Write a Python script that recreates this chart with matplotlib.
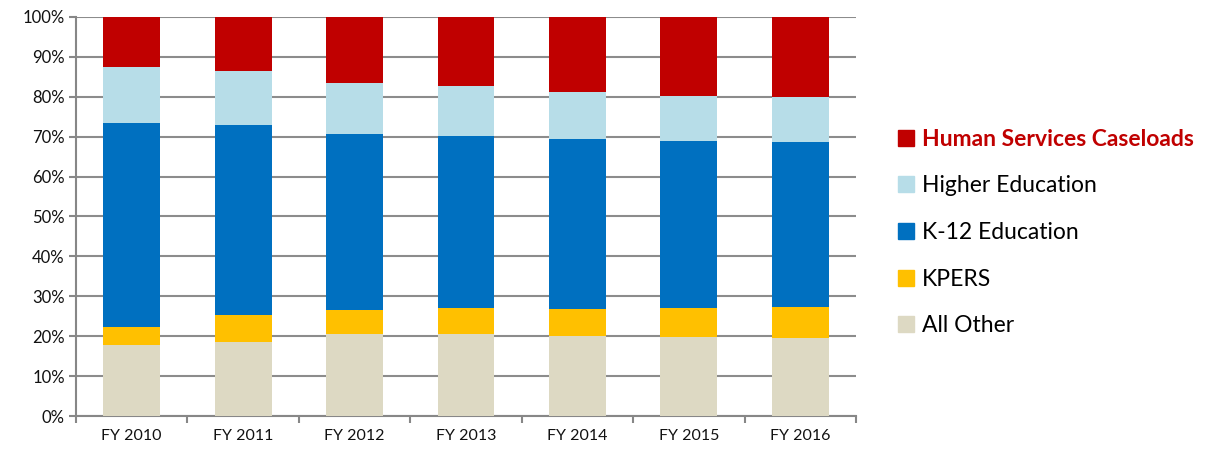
import matplotlib
matplotlib.use("Agg")
import matplotlib.pyplot as plt
from matplotlib.patches import Patch
from matplotlib.ticker import PercentFormatter

plt.rcParams['font.family'] = ['Lato', 'DejaVu Sans']

# data (shares of total, percent)
years = ["FY 2010", "FY 2011", "FY 2012", "FY 2013", "FY 2014", "FY 2015", "FY 2016"]
all_other = [17.9, 18.5, 20.5, 20.5, 20.1, 19.7, 19.6]
kpers = [4.3, 6.7, 6.0, 6.5, 6.7, 7.3, 7.6]
k12 = [51.2, 47.6, 44.2, 43.2, 42.5, 41.8, 41.4]
higher_ed = [14.1, 13.6, 12.8, 12.5, 12.0, 11.4, 11.3]
human_services = [12.6, 13.6, 16.5, 17.3, 18.7, 19.8, 20.1]

series = [
    ("All Other", all_other, "#ddd9c3"),
    ("KPERS", kpers, "#ffc000"),
    ("K-12 Education", k12, "#0070c0"),
    ("Higher Education", higher_ed, "#b7dde8"),
    ("Human Services Caseloads", human_services, "#c00000"),
]

fig = plt.figure(figsize=(12.12, 4.54), dpi=100)
ax = fig.add_axes([0.0627, 0.0837, 0.6436, 0.879])

x = range(len(years))
bottom = [0.0] * len(years)
for name, vals, col in series:
    ax.bar(x, vals, width=0.51, bottom=bottom, color=col, zorder=3)
    bottom = [b + v for b, v in zip(bottom, vals)]

ax.set_xlim(-0.5, len(years) - 0.5)
ax.set_ylim(0, 100)
ax.set_yticks(range(0, 101, 10))
ax.yaxis.set_major_formatter(PercentFormatter(decimals=0))
ax.set_xticks(list(x))
ax.set_xticklabels(years)
ax.set_xticks([i - 0.5 for i in range(len(years) + 1)], minor=True)
ax.tick_params(axis='x', which='major', length=0, pad=9, labelsize=11.5, labelcolor='#111111')
ax.tick_params(axis='x', which='minor', length=5, width=1.5, color='#878787')
ax.tick_params(axis='y', length=5, width=1.5, color='#878787', labelsize=12, pad=3,
               labelcolor='#111111')
ax.grid(axis='y', color='#8c8c8c', linewidth=1.5, zorder=0)
for s in ['top', 'right']:
    ax.spines[s].set_visible(False)
for s in ['left', 'bottom']:
    ax.spines[s].set_color('#878787')
    ax.spines[s].set_linewidth(1.5)

handles = [Patch(color=c, label=n) for n, v, c in series][::-1]
leg = fig.legend(handles=handles, loc='upper left', bbox_to_anchor=(0.733, 0.737),
                 frameon=False, fontsize=16.5, handlelength=0.7, handleheight=0.7,
                 handletextpad=0.35, labelspacing=1.12, borderaxespad=0)
leg.get_texts()[0].set_color('#c00000')
leg.get_texts()[0].set_fontweight('bold')

fig.savefig("out.png", dpi=100)
